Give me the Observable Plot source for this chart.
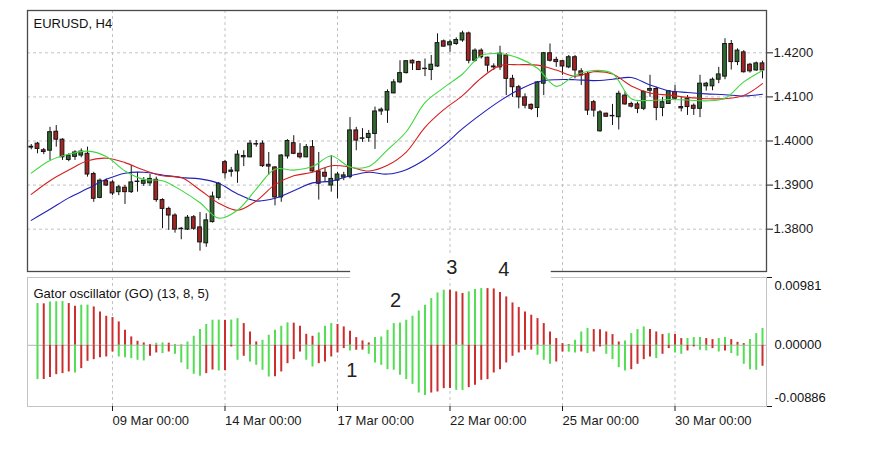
<!DOCTYPE html>
<html>
<head>
<meta charset="utf-8">
<script src="https://cdn.jsdelivr.net/npm/d3@7"></script>
<script src="https://cdn.jsdelivr.net/npm/@observablehq/plot@0.6"></script>
<style>
html, body { margin: 0; padding: 0; background: #fff; }
#chart { position: relative; width: 875px; height: 450px; overflow: hidden; font-family: "Liberation Sans", Arial, sans-serif; }
#chart svg { position: absolute; left: 0; }
</style>
</head>
<body>
<div id="chart"></div>
<script>
// ---------- texts ----------
const symbolTitle = "EURUSD, H4";
const oscTitle = "Gator oscillator (GO) (13, 8, 5)";

// ---------- price bars (H4 candles, bar index 0..117) ----------
const open = [
  1.3985, 1.3994, 1.3979, 1.3978, 1.4021, 1.4003, 1.3957, 1.3964, 1.3967, 1.3971,
  1.3925, 1.3871, 1.3909, 1.3906, 1.3884, 1.3894, 1.3884, 1.3908, 1.3903, 1.3904,
  1.3912, 1.3866, 1.3846, 1.3831, 1.3800, 1.3799, 1.3827, 1.3804, 1.3768, 1.3816,
  1.3871, 1.3952, 1.3930, 1.3931, 1.3963, 1.3963, 1.3992, 1.3994, 1.3946, 1.3940,
  1.3872, 1.3965, 1.3995, 1.3971, 1.3963, 1.3986, 1.3931, 1.3928, 1.3899, 1.3910,
  1.3917, 1.3918, 1.4024, 1.4005, 1.4007, 1.4016, 1.4067, 1.4069, 1.4108, 1.4133,
  1.4154, 1.4182, 1.4179, 1.4164, 1.4161, 1.4169, 1.4226, 1.4217, 1.4220, 1.4228,
  1.4244, 1.4182, 1.4205, 1.4189, 1.4169, 1.4167, 1.4194, 1.4141, 1.4122, 1.4099,
  1.4082, 1.4075, 1.4130, 1.4199, 1.4184, 1.4181, 1.4167, 1.4190, 1.4158, 1.4152,
  1.4088, 1.4022, 1.4062, 1.4056, 1.4054, 1.4103, 1.4084, 1.4083, 1.4073, 1.4114,
  1.4118, 1.4075, 1.4084, 1.4111, 1.4077, 1.4096, 1.4080, 1.4073, 1.4124, 1.4124,
  1.4139, 1.4146, 1.4220, 1.4179, 1.4201, 1.4173, 1.4160, 1.4176
];
const high = [
  1.3992, 1.3997, 1.3983, 1.4031, 1.4035, 1.4005, 1.3971, 1.3978, 1.3982, 1.3986,
  1.3929, 1.3914, 1.3914, 1.3910, 1.3899, 1.3899, 1.3944, 1.3929, 1.3917, 1.3924,
  1.3918, 1.3869, 1.3850, 1.3835, 1.3804, 1.3831, 1.3831, 1.3838, 1.3835, 1.3884,
  1.3906, 1.3956, 1.3940, 1.3978, 1.3978, 1.4001, 1.4001, 1.4000, 1.3974, 1.3942,
  1.3969, 1.4003, 1.4012, 1.3994, 1.3992, 1.4001, 1.3974, 1.3938, 1.3967, 1.3929,
  1.3929, 1.4053, 1.4031, 1.4028, 1.4024, 1.4077, 1.4075, 1.4116, 1.4139, 1.4182,
  1.4182, 1.4184, 1.4181, 1.4186, 1.4194, 1.4243, 1.4229, 1.4229, 1.4234, 1.4249,
  1.4247, 1.4209, 1.4209, 1.4190, 1.4175, 1.4215, 1.4198, 1.4149, 1.4126, 1.4107,
  1.4084, 1.4135, 1.4201, 1.4220, 1.4190, 1.4182, 1.4194, 1.4194, 1.4164, 1.4156,
  1.4092, 1.4069, 1.4063, 1.4083, 1.4113, 1.4111, 1.4088, 1.4088, 1.4114, 1.4149,
  1.4122, 1.4099, 1.4114, 1.4126, 1.4099, 1.4103, 1.4084, 1.4149, 1.4133, 1.4143,
  1.4167, 1.4232, 1.4228, 1.4209, 1.4205, 1.4176, 1.4179, 1.4181
];
const low = [
  1.3980, 1.3971, 1.3969, 1.3956, 1.3986, 1.3956, 1.3953, 1.3956, 1.3962, 1.3918,
  1.3861, 1.3869, 1.3897, 1.3876, 1.3876, 1.3856, 1.3881, 1.3884, 1.3897, 1.3897,
  1.3861, 1.3801, 1.3797, 1.3791, 1.3776, 1.3797, 1.3797, 1.3750, 1.3759, 1.3814,
  1.3866, 1.3914, 1.3918, 1.3904, 1.3942, 1.3962, 1.3986, 1.3940, 1.3922, 1.3853,
  1.3861, 1.3959, 1.3969, 1.3959, 1.3962, 1.3929, 1.3866, 1.3906, 1.3884, 1.3869,
  1.3910, 1.3914, 1.3978, 1.3997, 1.3997, 1.3981, 1.4058, 1.4040, 1.4107, 1.4130,
  1.4152, 1.4160, 1.4160, 1.4146, 1.4137, 1.4167, 1.4213, 1.4201, 1.4217, 1.4224,
  1.4175, 1.4179, 1.4186, 1.4156, 1.4160, 1.4160, 1.4103, 1.4099, 1.4073, 1.4073,
  1.4069, 1.4053, 1.4103, 1.4179, 1.4167, 1.4149, 1.4164, 1.4141, 1.4126, 1.4058,
  1.4054, 1.4020, 1.4054, 1.4035, 1.4025, 1.4081, 1.4075, 1.4062, 1.4069, 1.4099,
  1.4046, 1.4055, 1.4083, 1.4092, 1.4066, 1.4058, 1.4058, 1.4053, 1.4113, 1.4114,
  1.4130, 1.4139, 1.4161, 1.4171, 1.4154, 1.4154, 1.4158, 1.4141
];
const close = [
  1.3987, 1.3982, 1.3975, 1.4020, 1.4003, 1.3963, 1.3967, 1.3974, 1.3976, 1.3924,
  1.3869, 1.3910, 1.3899, 1.3881, 1.3895, 1.3884, 1.3906, 1.3907, 1.3910, 1.3914,
  1.3866, 1.3846, 1.3831, 1.3799, 1.3801, 1.3826, 1.3801, 1.3770, 1.3820, 1.3874,
  1.3903, 1.3927, 1.3933, 1.3969, 1.3966, 1.3994, 1.3993, 1.3943, 1.3942, 1.3872,
  1.3967, 1.4000, 1.3971, 1.3963, 1.3986, 1.3931, 1.3903, 1.3919, 1.3914, 1.3924,
  1.3922, 1.4024, 1.4001, 1.4006, 1.4016, 1.4067, 1.4071, 1.4111, 1.4133, 1.4154,
  1.4181, 1.4176, 1.4161, 1.4163, 1.4173, 1.4222, 1.4214, 1.4224, 1.4229, 1.4244,
  1.4182, 1.4205, 1.4190, 1.4171, 1.4167, 1.4198, 1.4141, 1.4122, 1.4099, 1.4080,
  1.4073, 1.4133, 1.4199, 1.4182, 1.4179, 1.4169, 1.4190, 1.4160, 1.4149, 1.4069,
  1.4069, 1.4065, 1.4055, 1.4057, 1.4107, 1.4083, 1.4078, 1.4073, 1.4111, 1.4118,
  1.4075, 1.4088, 1.4113, 1.4096, 1.4074, 1.4077, 1.4073, 1.4130, 1.4130, 1.4139,
  1.4151, 1.4220, 1.4179, 1.4205, 1.4156, 1.4158, 1.4176, 1.4160
];

// ---------- Alligator lines (read at every third bar) ----------
const lineBars = [0, 3, 6, 9, 12, 15, 18, 21, 24, 27, 30, 33, 36, 39, 42, 45, 48, 51, 54, 57,
  60, 63, 66, 69, 72, 75, 78, 81, 84, 87, 90, 93, 96, 99, 102, 105, 108, 111, 114, 117];
const jaw = [
  1.3820, 1.3845, 1.3871, 1.3892, 1.3913, 1.3927, 1.3929, 1.3923, 1.3917, 1.3914,
  1.3904, 1.3880, 1.3864, 1.3870, 1.3887, 1.3905, 1.3909, 1.3921, 1.3929, 1.3925,
  1.3935, 1.3958, 1.3990, 1.4028, 1.4061, 1.4091, 1.4116, 1.4134, 1.4139, 1.4139,
  1.4137, 1.4140, 1.4144, 1.4127, 1.4114, 1.4110, 1.4107, 1.4105, 1.4102, 1.4106
];
const teeth = [
  1.3879, 1.3910, 1.3934, 1.3955, 1.3961, 1.3951, 1.3934, 1.3921, 1.3917, 1.3889,
  1.3859, 1.3843, 1.3864, 1.3901, 1.3921, 1.3929, 1.3944, 1.3941, 1.3932, 1.3945,
  1.3975, 1.4031, 1.4071, 1.4103, 1.4143, 1.4171, 1.4173, 1.4172, 1.4161, 1.4147,
  1.4157, 1.4152, 1.4125, 1.4109, 1.4104, 1.4099, 1.4096, 1.4096, 1.4103, 1.4130
];
const lips = [
  1.3927, 1.3956, 1.3970, 1.3977, 1.3965, 1.3932, 1.3913, 1.3910, 1.3888, 1.3860,
  1.3825, 1.3843, 1.3891, 1.3936, 1.3934, 1.3942, 1.3966, 1.3941, 1.3942, 1.3980,
  1.4021, 1.4087, 1.4121, 1.4152, 1.4194, 1.4198, 1.4188, 1.4165, 1.4124, 1.4149,
  1.4160, 1.4153, 1.4096, 1.4092, 1.4094, 1.4093, 1.4091, 1.4097, 1.4134, 1.4160
];

// ---------- Gator oscillator (bars 1..117) ----------
const gatorUpper = [
  0.00604, 0.00600, 0.00628, 0.00630, 0.00632, 0.00604, 0.00565, 0.00580, 0.00582, 0.00555,
  0.00483, 0.00420, 0.00401, 0.00338, 0.00217, 0.00121, 0.00058, 0.00034, 0.00010, 0.00030,
  0.00035, 0.00030, 0.00008, 0.00005, 0.00048, 0.00130, 0.00227, 0.00300, 0.00362, 0.00364,
  0.00360, 0.00365, 0.00386, 0.00314, 0.00193, 0.00048, 0.00072, 0.00145, 0.00217, 0.00275,
  0.00324, 0.00320, 0.00275, 0.00159, 0.00130, 0.00179, 0.00275, 0.00314, 0.00300, 0.00266,
  0.00203, 0.00111, 0.00063, 0.00034, 0.00111, 0.00120, 0.00217, 0.00314, 0.00324, 0.00362,
  0.00420, 0.00497, 0.00580, 0.00676, 0.00758, 0.00797, 0.00795, 0.00773, 0.00749, 0.00773,
  0.00807, 0.00821, 0.00820, 0.00815, 0.00763, 0.00700, 0.00613, 0.00546, 0.00483, 0.00435,
  0.00386, 0.00314, 0.00193, 0.00097, 0.00024, 0.00010, 0.00072, 0.00193, 0.00242, 0.00227,
  0.00225, 0.00193, 0.00155, 0.00048, 0.00063, 0.00169, 0.00227, 0.00266, 0.00227, 0.00193,
  0.00155, 0.00169, 0.00155, 0.00097, 0.00099, 0.00111, 0.00113, 0.00097, 0.00082, 0.00097,
  0.00111, 0.00082, 0.00043, 0.00024, 0.00082, 0.00169, 0.00242
];
const gatorLower = [
  -0.00497, -0.00495, -0.00468, -0.00425, -0.00410, -0.00386, -0.00401, -0.00338, -0.00232, -0.00208,
  -0.00179, -0.00169, -0.00097, -0.00169, -0.00179, -0.00193, -0.00217, -0.00227, -0.00159, -0.00111,
  -0.00120, -0.00097, -0.00130, -0.00256, -0.00353, -0.00420, -0.00449, -0.00410, -0.00358, -0.00372,
  -0.00370, -0.00024, -0.00217, -0.00159, -0.00242, -0.00290, -0.00362, -0.00459, -0.00455, -0.00386,
  -0.00266, -0.00208, -0.00097, -0.00217, -0.00314, -0.00266, -0.00242, -0.00169, -0.00111, -0.00048,
  -0.00082, -0.00072, -0.00070, -0.00130, -0.00256, -0.00290, -0.00353, -0.00362, -0.00435, -0.00497,
  -0.00565, -0.00691, -0.00725, -0.00691, -0.00676, -0.00628, -0.00626, -0.00652, -0.00655, -0.00613,
  -0.00580, -0.00507, -0.00497, -0.00401, -0.00353, -0.00256, -0.00159, -0.00111, -0.00072, -0.00070,
  -0.00145, -0.00217, -0.00275, -0.00242, -0.00097, -0.00100, -0.00111, -0.00097, -0.00120, -0.00097,
  -0.00024, -0.00130, -0.00208, -0.00324, -0.00372, -0.00353, -0.00275, -0.00208, -0.00169, -0.00193,
  -0.00130, -0.00048, -0.00111, -0.00130, -0.00082, -0.00024, -0.00072, -0.00082, -0.00048, -0.00097,
  -0.00082, -0.00120, -0.00159, -0.00275, -0.00353, -0.00362, -0.00304
];

// ---------- axes ----------
const dateTicks = [13, 31, 49, 67, 85, 103];
const dateLabels = ["09 Mar 00:00", "14 Mar 00:00", "17 Mar 00:00", "22 Mar 00:00", "25 Mar 00:00", "30 Mar 00:00"];
const priceTicks = [1.38, 1.39, 1.40, 1.41, 1.42];
const barDomain = [-0.6, 117.64];
const priceDomain = [1.3704, 1.4296];
const gatorMax = 0.00981;
const gatorMin = -0.00886;

// ---------- wave annotations ----------
const waveText = ["1", "2", "3", "4"];
const waveBar = [51.3, 58.3, 67.3, 75.6];
const waveValue = [-0.00362, 0.00652, 0.01123, 0.01094];
const calloutBars = [51.1, 83.2];
const calloutValues = [0.0140, 0.0096];

// ---------- colours ----------
const bullFill = "#2f6b2f", bearFill = "#a82424", candleStroke = "#151515";
const jawColor = "#2020b8", teethColor = "#d42020", lipsColor = "#3ed83e";
const histGreen = "#55dd55", histRed = "#cc2e2e";
const gridColor = "#c2c2c2";
const font = "Liberation Sans, Arial, sans-serif";

// ---------- tables ----------
const candles = open.map((o, i) => ({ i, o, h: high[i], l: low[i], c: close[i] }));
const mkLine = arr => arr.map((v, k) => ({ i: lineBars[k], v }));
const upperRows = gatorUpper.map((v, k) => ({ i: k + 1, v, grow: k === 0 || Math.abs(v) > Math.abs(gatorUpper[k - 1]) }));
const lowerRows = gatorLower.map((v, k) => ({ i: k + 1, v, grow: k === 0 || Math.abs(v) > Math.abs(gatorLower[k - 1]) }));
const waves = waveText.map((t, k) => ({ t, i: waveBar[k], v: waveValue[k] }));

const chartDiv = document.getElementById("chart");
const svgWidth = 836;
const rightMargin = svgWidth - 766;

// ---------- price panel ----------
const priceSvg = Plot.plot({
  width: svgWidth, height: 275,
  marginLeft: 27, marginRight: rightMargin, marginTop: 10, marginBottom: 4,
  style: { background: "transparent", overflow: "hidden", fontFamily: font, fontSize: "13px", color: "#1a1a1a" },
  x: { domain: barDomain, axis: null },
  y: { domain: priceDomain, axis: null },
  marks: [
    Plot.ruleY(priceTicks, { stroke: gridColor, strokeDasharray: "3,3" }),
    Plot.ruleX(dateTicks, { stroke: gridColor, strokeDasharray: "3,3" }),
    Plot.ruleX(candles, { x: "i", y1: "l", y2: "h", stroke: candleStroke, strokeWidth: 1 }),
    Plot.rect(candles, {
      x1: d => d.i - 0.3, x2: d => d.i + 0.3, y1: "o", y2: "c",
      fill: d => d.c >= d.o ? bullFill : bearFill, stroke: candleStroke, strokeWidth: 1
    }),
    Plot.line(mkLine(jaw), { x: "i", y: "v", stroke: jawColor, strokeWidth: 1.1, curve: "catmull-rom" }),
    Plot.line(mkLine(teeth), { x: "i", y: "v", stroke: teethColor, strokeWidth: 1.1, curve: "catmull-rom" }),
    Plot.line(mkLine(lips), { x: "i", y: "v", stroke: lipsColor, strokeWidth: 1.1, curve: "catmull-rom" }),
    Plot.axisY(priceTicks, { anchor: "right", tickSize: 6, tickPadding: 1, tickFormat: d3.format(".4f"), fontSize: 13, label: null }),
    Plot.frame({ stroke: "#4a4a4a", strokeWidth: 1.3 }),
    Plot.text([symbolTitle], { frameAnchor: "top-left", dx: 6, dy: 8, lineAnchor: "top", textAnchor: "start", fontSize: 13, fill: "#111" })
  ]
});
priceSvg.style.top = "0px";
chartDiv.appendChild(priceSvg);

// ---------- oscillator panel ----------
const gatorSvg = Plot.plot({
  width: svgWidth, height: 195,
  marginLeft: 27, marginRight: rightMargin, marginTop: 22, marginBottom: 44,
  style: { background: "transparent", overflow: "hidden", fontFamily: font, fontSize: "13px", color: "#1a1a1a" },
  x: { domain: barDomain, axis: null },
  y: { domain: [gatorMin, gatorMax], axis: null },
  marks: [
    Plot.ruleX(dateTicks, { stroke: gridColor, strokeDasharray: "3,3" }),
    Plot.ruleY([0], { stroke: "#b4b4b4" }),
    Plot.ruleX(upperRows, { x: "i", y1: 0, y2: "v", stroke: d => d.grow ? histGreen : histRed, strokeWidth: 2 }),
    Plot.ruleX(lowerRows, { x: "i", y1: 0, y2: "v", stroke: d => d.grow ? histGreen : histRed, strokeWidth: 2 }),
    Plot.frame({ stroke: "#c4c4c4" }),
    Plot.axisX(dateTicks, {
      anchor: "bottom", tickSize: 5, tickPadding: 4, textAnchor: "start", fontSize: 13, label: null,
      tickFormat: d => dateLabels[dateTicks.indexOf(d)]
    }),
    Plot.axisY([gatorMin, gatorMax], { anchor: "right", tickSize: 5, tickFormat: () => "", label: null }),
    Plot.text([gatorMax], { y: d => d, text: d => d.toFixed(5), frameAnchor: "right", dx: 8, dy: 8, textAnchor: "start", fontSize: 13, fill: "#111" }),
    Plot.text([0], { y: d => d, text: d => d.toFixed(5), frameAnchor: "right", dx: 8, textAnchor: "start", fontSize: 13, fill: "#111" }),
    Plot.text([gatorMin], { y: d => d, text: d => d.toFixed(5), frameAnchor: "right", dx: 8, dy: -8.5, textAnchor: "start", fontSize: 13, fill: "#111" }),
    Plot.rect([0], { x1: calloutBars[0], x2: calloutBars[1], y1: calloutValues[0], y2: calloutValues[1], fill: "#fff" }),
    Plot.text(waves, { x: "i", y: "v", text: "t", fontSize: 20, fill: "#222", textAnchor: "middle" }),
    Plot.text([oscTitle], { frameAnchor: "top-left", dx: 6, dy: 11, lineAnchor: "top", textAnchor: "start", fontSize: 13, fill: "#111" })
  ]
});
gatorSvg.style.top = "255px";
chartDiv.appendChild(gatorSvg);
</script>
</body>
</html>
